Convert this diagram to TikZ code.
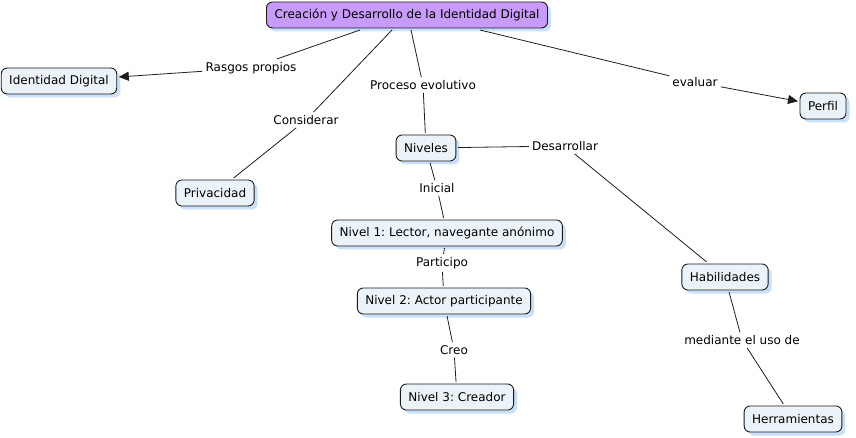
\documentclass[tikz,border=0pt]{standalone}
\usepackage{fontspec}
\setmainfont{DejaVu Sans}
\usetikzlibrary{arrows.meta, positioning, shadows}
\frenchspacing

\begin{document}
\begin{tikzpicture}[x=1pt, y=-1pt,
    concept/.style={draw=conceptborder, fill=conceptfill, rounded corners=6pt, line width=0.9pt,
        minimum height=26pt, inner xsep=8pt, outer sep=2pt, font=\fontsize{12}{14}\selectfont,
        drop shadow={shadow xshift=3.5pt, shadow yshift=-3.5pt, fill=shadowcolor}},
    linkword/.style={inner sep=3pt, font=\fontsize{12}{14}\selectfont},
    link/.style={draw=linkcolor, line width=0.8pt},
    arrowlink/.style={link, -{Triangle[length=10pt, width=9pt]}}]
    % Define colors
    \definecolor{conceptfill}{RGB}{236,243,248}
    \definecolor{conceptborder}{RGB}{25,25,25}
    \definecolor{mainfill}{RGB}{200,155,250}
    \definecolor{shadowcolor}{RGB}{150,192,242}
    \definecolor{linkcolor}{RGB}{30,30,30}

    % Canvas
    \useasboundingbox (0,0) rectangle (856,438);

    % Concepts
    \node[concept, fill=mainfill] (main) at (407,15) {Creación y Desarrollo de la Identidad Digital};
    \node[concept] (identidad) at (59,81) {Identidad Digital};
    \node[concept] (privacidad) at (215,193) {Privacidad};
    \node[concept] (niveles) at (426,148) {Niveles};
    \node[concept] (perfil) at (823,106) {Perfil};
    \node[concept] (nivel1) at (447,233) {Nivel 1: Lector, navegante anónimo};
    \node[concept] (nivel2) at (444,301) {Nivel 2: Actor participante};
    \node[concept] (nivel3) at (457,397) {Nivel 3: Creador};
    \node[concept] (habilidades) at (725,277) {Habilidades};
    \node[concept] (herramientas) at (793,419) {Herramientas};

    % Linking words
    \node[linkword] (rasgos) at (251,68) {Rasgos propios};
    \node[linkword] (considerar) at (306,120) {Considerar};
    \node[linkword] (proceso) at (423,85) {Proceso evolutivo};
    \node[linkword] (evaluar) at (695,82) {evaluar};
    \node[linkword] (desarrollar) at (565,146) {Desarrollar};
    \node[linkword] (inicial) at (437,188) {Inicial};
    \node[linkword] (participo) at (442,263) {Participo};
    \node[linkword] (creo) at (454,350) {Creo};
    \node[linkword] (mediante) at (742,340) {mediante el uso de};

    % Links from the main concept
    \draw[link] ([xshift=-47pt]main.south) -- (rasgos);
    \draw[arrowlink] (rasgos) -- (identidad);
    \draw[link] ([xshift=-15pt]main.south) -- (considerar);
    \draw[link] (considerar) -- (privacidad);
    \draw[link] ([xshift=4pt]main.south) -- (proceso);
    \draw[link] (proceso) -- (niveles);
    \draw[link] ([xshift=73pt]main.south) -- (evaluar);
    \draw[arrowlink] (evaluar) -- (perfil);

    % Levels
    \draw[link] (niveles) -- (desarrollar);
    \draw[link] (desarrollar) -- (habilidades);
    \draw[link] (niveles) -- (inicial);
    \draw[link] (inicial) -- (nivel1);
    \draw[link] (nivel1) -- (participo);
    \draw[link] (participo) -- (nivel2);
    \draw[link] (nivel2) -- (creo);
    \draw[link] (creo) -- (nivel3);

    % Skills
    \draw[link] (habilidades) -- (mediante);
    \draw[link] (mediante) -- (herramientas);
\end{tikzpicture}
\end{document}
